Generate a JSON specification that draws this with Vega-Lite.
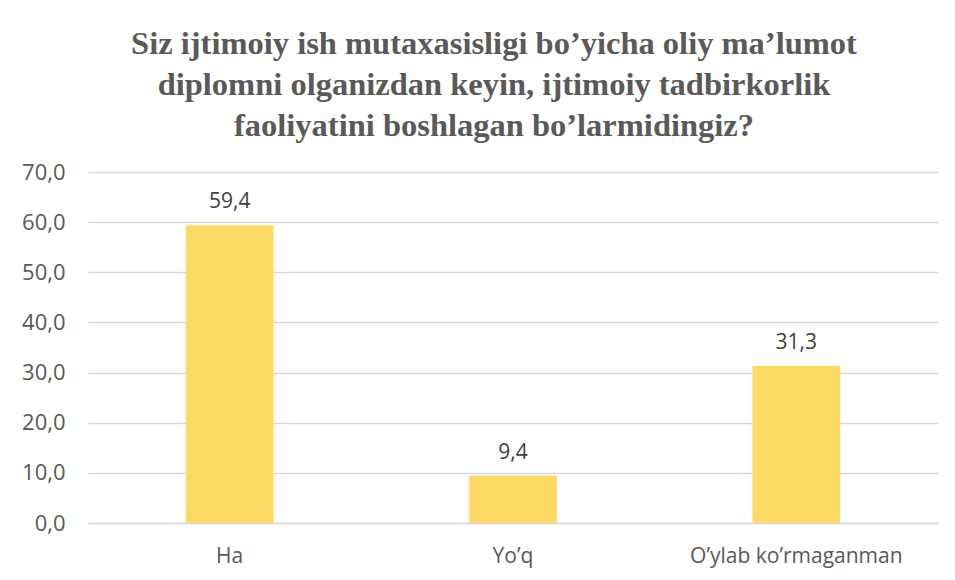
{
  "$schema": "https://vega.github.io/schema/vega-lite/v6.json",
  "autosize": {"type": "none"},
  "width": 850,
  "height": 351,
  "padding": {"left": 88, "top": 172, "right": 17, "bottom": 57},
  "background": "white",
  "config": {
    "locale": {"number": {"decimal": ",", "thousands": " ", "grouping": [3], "currency": ["", ""]}},
    "view": {"stroke": null}
  },
  "title": {
    "text": ["Siz ijtimoiy ish mutaxasisligi bo’yicha oliy ma’lumot", "diplomni olganizdan keyin, ijtimoiy tadbirkorlik", "faoliyatini boshlagan bo’larmidingiz?"],
    "font": "Liberation Serif",
    "fontSize": 32.5,
    "fontWeight": "bold",
    "color": "#595959",
    "anchor": "middle",
    "frame": "group",
    "dx": -19,
    "dy": 50,
    "lineHeight": 41,
    "baseline": "bottom",
    "offset": 36
  },
  "data": {
    "values": [
      {"javob": "Ha", "foiz": 59.4},
      {"javob": "Yo’q", "foiz": 9.4},
      {"javob": "O’ylab ko’rmaganman", "foiz": 31.3}
    ]
  },
  "encoding": {
    "x": {
      "field": "javob",
      "type": "nominal",
      "sort": null,
      "title": null,
      "scale": {"paddingInner": 0.69, "paddingOuter": 0.345},
      "axis": {
        "labelAngle": 0,
        "labelFont": "Open Sans",
        "labelFontSize": 21,
        "labelColor": "#595959",
        "labelBaseline": "alphabetic",
        "labelPadding": 39,
        "labelLimit": 0,
        "ticks": false,
        "tickSize": 0,
        "domainColor": "#D9D9D9",
        "domainWidth": 1.5,
        "grid": false
      }
    },
    "y": {
      "field": "foiz",
      "type": "quantitative",
      "title": null,
      "scale": {"domain": [0, 70], "nice": false},
      "axis": {
        "values": [0, 10, 20, 30, 40, 50, 60, 70],
        "format": ".1f",
        "labelFont": "Open Sans",
        "labelFontSize": 22,
        "labelColor": "#595959",
        "labelPadding": 23,
        "ticks": false,
        "tickSize": 0,
        "domain": false,
        "gridColor": "#D9D9D9",
        "gridWidth": 1.5
      }
    }
  },
  "layer": [
    {"mark": {"type": "bar", "color": "#FFD966"}},
    {
      "mark": {"type": "text", "font": "Open Sans", "fontSize": 21, "color": "#404040", "baseline": "alphabetic", "dy": -17},
      "encoding": {"text": {"field": "foiz", "type": "quantitative", "format": ".1f"}}
    }
  ]
}
